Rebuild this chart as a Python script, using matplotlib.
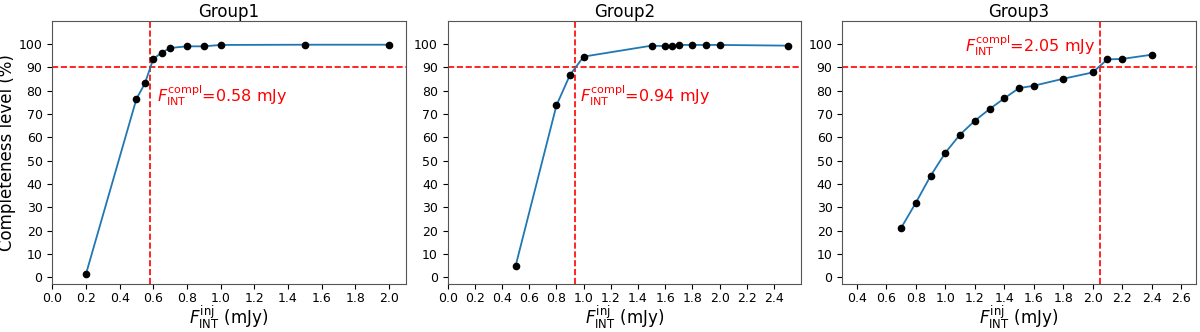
import matplotlib
matplotlib.use("Agg")
import matplotlib.pyplot as plt

titles = ["Group1", "Group2", "Group3"]

x1 = [0.2, 0.5, 0.55, 0.6, 0.65, 0.7, 0.8, 0.9, 1.0, 1.5, 2.0]
y1 = [1.4, 76.5, 83.1, 93.6, 96.3, 98.3, 99.0, 99.0, 99.6, 99.7, 99.7]

x2 = [0.5, 0.8, 0.9, 1.0, 1.5, 1.6, 1.65, 1.7, 1.8, 1.9, 2.0, 2.5]
y2 = [5.0, 73.7, 86.8, 94.6, 99.3, 99.1, 99.1, 99.6, 99.6, 99.6, 99.6, 99.3]

x3 = [0.7, 0.8, 0.9, 1.0, 1.1, 1.2, 1.3, 1.4, 1.5, 1.6, 1.8, 2.0, 2.1, 2.2, 2.4]
y3 = [21.2, 32.0, 43.5, 53.4, 61.2, 67.1, 72.1, 76.7, 81.1, 82.1, 85.1, 87.8, 93.4, 93.6, 95.4]

flux_compl = [0.58, 0.94, 2.05]
level = 90
compl_labels = ["0.58", "0.94", "2.05"]

xlims = [(0, 2.1), (0, 2.6), (0.3, 2.7)]
xticks = [[0.0, 0.2, 0.4, 0.6, 0.8, 1.0, 1.2, 1.4, 1.6, 1.8, 2.0],
          [0.0, 0.2, 0.4, 0.6, 0.8, 1.0, 1.2, 1.4, 1.6, 1.8, 2.0, 2.2, 2.4],
          [0.4, 0.6, 0.8, 1.0, 1.2, 1.4, 1.6, 1.8, 2.0, 2.2, 2.4, 2.6]]
yticks = [0, 10, 20, 30, 40, 50, 60, 70, 80, 90, 100]

# text placement (x offset from line, y, alignment)
text_pos = [(0.04, 78, "left"), (0.03, 78, "left"), (-0.03, 99.5, "right")]

fig = plt.figure(figsize=(12, 3.32), dpi=100)
lefts = [0.0436, 0.3731, 0.7019]
data = [(x1, y1), (x2, y2), (x3, y3)]
for i in range(3):
    ax = fig.add_axes([lefts[i], 0.1437, 0.2945, 0.794])
    xs, ys = data[i]
    ax.plot(xs, ys, "-", color="#1f77b4", lw=1.3, zorder=2)
    ax.plot(xs, ys, "o", color="black", ms=4.5, zorder=3)
    ax.axvline(flux_compl[i], color="red", ls="--", lw=1.2, zorder=1)
    ax.axhline(level, color="red", ls="--", lw=1.2, zorder=1)
    dx, ty, ha = text_pos[i]
    ax.text(flux_compl[i] + dx, ty,
            r"$F_{\rm INT}^{\rm compl}$=" + compl_labels[i] + " mJy",
            color="red", fontsize=11.5, ha=ha, va="center")
    ax.set_xlim(*xlims[i])
    ax.set_ylim(-3, 110)
    ax.set_xticks(xticks[i])
    ax.set_yticks(yticks)
    ax.tick_params(labelsize=9, length=3.5)
    ax.tick_params(axis="x", pad=2)
    ax.set_title(titles[i], fontsize=12, pad=3)
    ax.set_xlabel(r"$F_{\rm INT}^{\rm inj}$ (mJy)", fontsize=12, labelpad=-1)
    if i == 0:
        ax.set_ylabel("Completeness level (%)", fontsize=12, labelpad=2)
    for s in ax.spines.values():
        s.set_color("#555555")

fig.savefig("out.png", dpi=100)
